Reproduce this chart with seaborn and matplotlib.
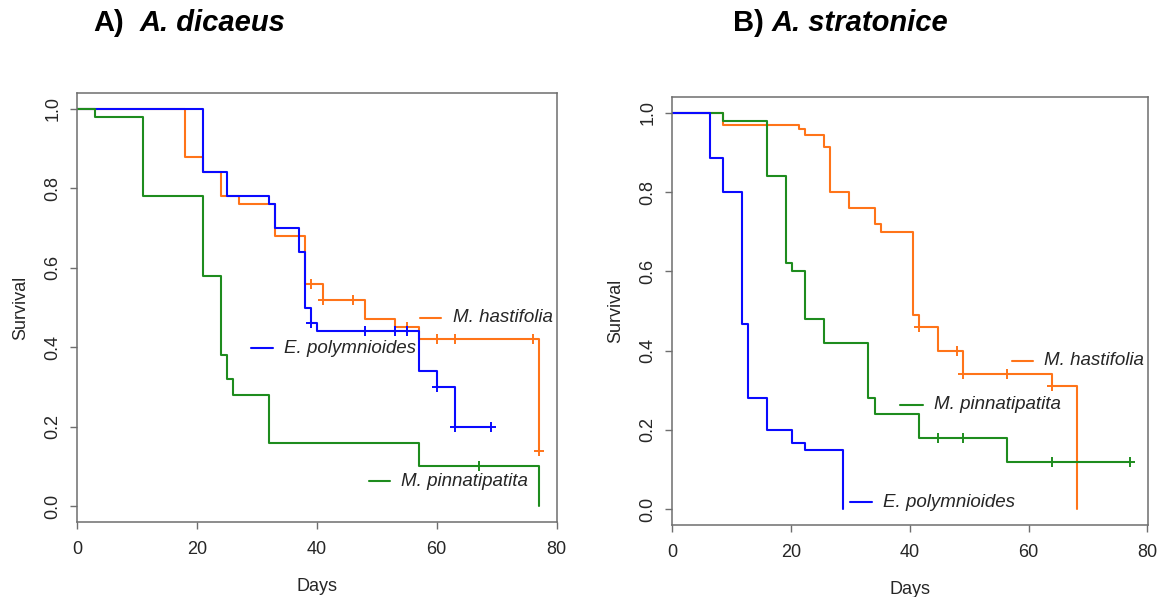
import numpy as np
import pandas as pd
import matplotlib
matplotlib.use("Agg")
import matplotlib.pyplot as plt
import seaborn as sns

sns.set_theme(style="white")
plt.rcParams["font.family"] = ["Liberation Sans", "DejaVu Sans"]

# ---- Kaplan-Meier step data ----
# Panel A: A. dicaeus
a_hast_t = [0, 18, 21, 24, 27, 33, 38, 41, 48, 53, 57, 77]
a_hast_s = [1.0, 0.88, 0.84, 0.78, 0.76, 0.68, 0.56, 0.52, 0.47, 0.45, 0.42, 0.14]
a_hast_cens_t = [39, 41, 46, 55, 60, 63, 76, 77]
a_hast_cens_s = [0.56, 0.52, 0.52, 0.45, 0.42, 0.42, 0.42, 0.14]

a_poly_t = [0, 21, 25, 32, 33, 37, 38, 39, 40, 57, 60, 63, 69]
a_poly_s = [1.0, 0.84, 0.78, 0.76, 0.70, 0.64, 0.50, 0.46, 0.44, 0.34, 0.30, 0.20, 0.20]
a_poly_cens_t = [39, 48, 53, 55, 60, 63, 69]
a_poly_cens_s = [0.46, 0.44, 0.44, 0.44, 0.30, 0.20, 0.20]

a_pinn_t = [0, 3, 11, 21, 24, 25, 26, 32, 57, 77]
a_pinn_s = [1.0, 0.98, 0.78, 0.58, 0.38, 0.32, 0.28, 0.16, 0.10, 0.0]
a_pinn_cens_t = [67]
a_pinn_cens_s = [0.10]

# Panel B: A. stratonice
b_hast_t = [0, 8.5, 21.3, 22.4, 25.6, 26.6, 29.8, 34.1, 35.1, 40.5, 41.5,
            44.7, 49.0, 63.9, 68.2]
b_hast_s = [1.0, 0.97, 0.96, 0.945, 0.915, 0.80, 0.76, 0.72, 0.70, 0.49,
            0.46, 0.40, 0.34, 0.31, 0.0]
b_hast_cens_t = [41.5, 47.9, 49.0, 56.4, 63.9]
b_hast_cens_s = [0.46, 0.40, 0.34, 0.34, 0.31]

b_pinn_t = [0, 8.5, 16.0, 19.2, 20.2, 22.4, 25.6, 33.0, 34.1, 41.5, 56.4, 77.0]
b_pinn_s = [1.0, 0.98, 0.84, 0.62, 0.60, 0.48, 0.42, 0.28, 0.24, 0.18, 0.12, 0.12]
b_pinn_cens_t = [44.7, 49.0, 63.9, 77.0]
b_pinn_cens_s = [0.18, 0.18, 0.12, 0.12]

b_poly_t = [0, 6.4, 8.5, 11.7, 12.8, 16.0, 20.2, 22.4, 28.8]
b_poly_s = [1.0, 0.885, 0.80, 0.467, 0.28, 0.20, 0.168, 0.15, 0.0]

y_ticks = [0.0, 0.2, 0.4, 0.6, 0.8, 1.0]
x_ticks = [0, 20, 40, 60, 80]

COL_HAST = "#FF7419"
COL_POLY = "#0A0AFF"
COL_PINN = "#1E8C1E"
TXT = "#262626"
SPINE = "#6E6E6E"

fig = plt.figure(figsize=(11.72, 5.97), dpi=100)
axA = fig.add_axes([0.0657, 0.1256, 0.4096, 0.7186])
axB = fig.add_axes([0.5734, 0.1206, 0.4061, 0.7169])


def km(ax, t, s, color, ct=None, cs=None):
    df = pd.DataFrame({"t": t, "s": s})
    sns.lineplot(data=df, x="t", y="s", ax=ax, color=color, lw=1.5,
                 drawstyle="steps-post", estimator=None, sort=False)
    if ct:
        cf = pd.DataFrame({"t": ct, "s": cs})
        sns.scatterplot(data=cf, x="t", y="s", ax=ax, color=color,
                        marker="+", s=60, linewidth=1.4, zorder=3)


def style(ax, xmax):
    ax.set_xticks(x_ticks)
    ax.set_yticks(y_ticks)
    ax.set_xlim(0, xmax)
    ax.set_ylim(-0.04, 1.04)
    ax.set_xticklabels([str(v) for v in x_ticks], fontsize=13, color=TXT)
    ax.set_yticklabels([f"{v:.1f}" for v in y_ticks], fontsize=13,
                       color=TXT, rotation=90, va="center")
    ax.tick_params(axis="both", direction="out", length=5, width=1,
                   color=SPINE, bottom=True, left=True)
    ax.tick_params(axis="x", pad=9)
    ax.tick_params(axis="y", pad=6)
    for sp in ax.spines.values():
        sp.set_color(SPINE)
        sp.set_linewidth(1.1)
    ax.set_xlabel("Days", fontsize=13, color=TXT, labelpad=14)
    ax.set_ylabel("Survival", fontsize=13, color=TXT, labelpad=11)


def key(ax, x0, x1, y, color, label):
    ax.plot([x0, x1], [y, y], color=color, lw=1.5)
    ax.text(x1 + 1.85, y, label, color=TXT, fontsize=13.5, style="italic",
            va="center", ha="left")


# Panel A
km(axA, a_hast_t, a_hast_s, COL_HAST, a_hast_cens_t, a_hast_cens_s)
km(axA, a_poly_t, a_poly_s, COL_POLY, a_poly_cens_t, a_poly_cens_s)
km(axA, a_pinn_t, a_pinn_s, COL_PINN, a_pinn_cens_t, a_pinn_cens_s)
style(axA, 80.08)
key(axA, 57.3, 60.8, 0.474, COL_HAST, "M. hastifolia")
key(axA, 29.1, 32.7, 0.398, COL_POLY, "E. polymnioides")
key(axA, 48.7, 52.2, 0.063, COL_PINN, "M. pinnatipatita")

# Panel B
km(axB, b_hast_t, b_hast_s, COL_HAST, b_hast_cens_t, b_hast_cens_s)
km(axB, b_pinn_t, b_pinn_s, COL_PINN, b_pinn_cens_t, b_pinn_cens_s)
km(axB, b_poly_t, b_poly_s, COL_POLY)
style(axB, 80.08)
key(axB, 57.2, 60.8, 0.374, COL_HAST, "M. hastifolia")
key(axB, 38.4, 42.2, 0.264, COL_PINN, "M. pinnatipatita")
key(axB, 30.0, 33.7, 0.018, COL_POLY, "E. polymnioides")

# Panel titles
ty = 1 - 23 / 597
fig.text(93 / 1172, ty, "A)", fontsize=21, fontweight="bold",
         color="black", va="center", ha="left")
fig.text(140 / 1172, ty, "A. dicaeus", fontsize=21,
         fontweight="bold", style="italic", color="black", va="center", ha="left")
fig.text(733 / 1172, ty, "B)", fontsize=21, fontweight="bold",
         color="black", va="center", ha="left")
fig.text(772 / 1172, ty, "A. stratonice", fontsize=21,
         fontweight="bold", style="italic", color="black", va="center", ha="left")

fig.savefig("out.png", dpi=100)
